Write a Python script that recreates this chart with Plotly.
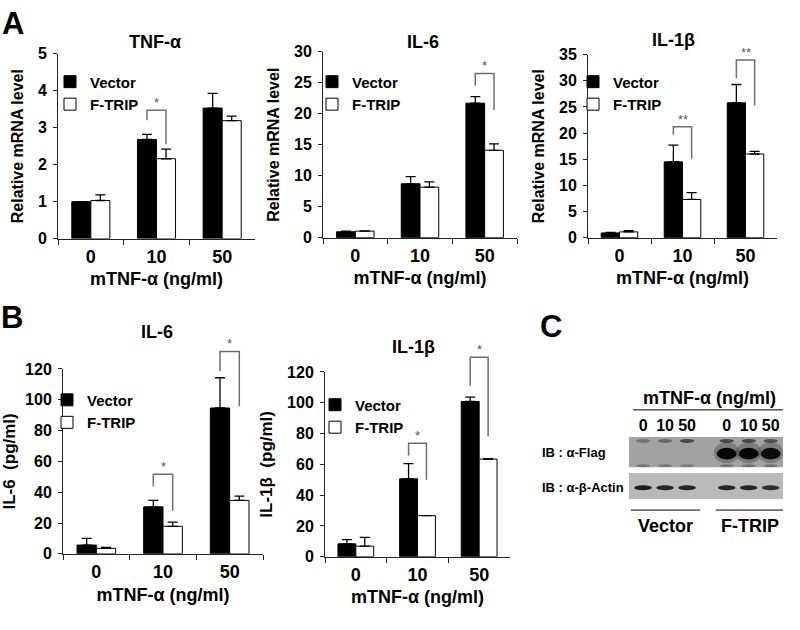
import plotly.graph_objects as go

W, H = 800, 630

doses = ["0", "10", "50"]

# panel A: relative mRNA level
tnf_vector = [1.0, 2.68, 3.53]
tnf_vector_err = [0.0, 0.14, 0.40]
tnf_ftrip = [1.03, 2.16, 3.19]
tnf_ftrip_err = [0.15, 0.26, 0.12]

il6_mrna_vector = [0.95, 8.7, 21.7]
il6_mrna_vector_err = [0.1, 1.15, 1.05]
il6_mrna_ftrip = [1.05, 8.15, 14.1]
il6_mrna_ftrip_err = [0.05, 0.85, 1.05]

il1b_mrna_vector = [0.9, 14.5, 25.8]
il1b_mrna_vector_err = [0.1, 3.2, 3.5]
il1b_mrna_ftrip = [1.1, 7.3, 16.0]
il1b_mrna_ftrip_err = [0.25, 1.3, 0.5]

# panel B: secreted protein (pg/ml)
il6_prot_vector = [5.7, 30.5, 94.7]
il6_prot_vector_err = [4.4, 4.2, 19.6]
il6_prot_ftrip = [3.6, 17.9, 34.7]
il6_prot_ftrip_err = [0.6, 2.7, 2.8]

il1b_prot_vector = [8.4, 50.6, 100.8]
il1b_prot_vector_err = [2.7, 9.9, 2.8]
il1b_prot_ftrip = [6.9, 26.7, 63.4]
il1b_prot_ftrip_err = [5.7, 0.0, 0.3]

# significance brackets: (dose index, left leg end, right leg end, top, mark)
tnf_sig = [(1, 3.2, 2.55, 3.47, "*")]
il6_mrna_sig = [(2, 24.5, 20.6, 26.5, "*")]
il1b_mrna_sig = [(1, 19.7, 15.1, 21.2, "**"), (2, 30.5, 25.3, 34.0, "**")]
il6_prot_sig = [(1, 43.8, 28.0, 51.6, "*"), (2, 118.5, 95.8, 131.4, "*")]
il1b_prot_sig = [(1, 65.8, 50.0, 73.7, "*"), (2, 111.0, 78.0, 129.5, "*")]

# panel C: western blot (band darkness per lane)
lanes = ["0", "10", "50", "0", "10", "50"]
lane_pos = [0, 1, 2, 3.8, 4.8, 5.8]
flag_top = [0.30, 0.35, 0.55, 0.55, 0.55, 0.50]
flag_main = [0.0, 0.0, 0.0, 0.95, 0.95, 0.90]
flag_bottom = [0.30, 0.28, 0.25, 0.30, 0.30, 0.30]
actin = [0.85, 0.80, 0.80, 0.80, 0.80, 0.75]
groups = ["Vector", "F-TRIP"]

BOLD = dict(family="Arial, Liberation Sans, sans-serif", color="black", weight="bold")

panels = [
    dict(vec=tnf_vector, vec_err=tnf_vector_err, ft=tnf_ftrip, ft_err=tnf_ftrip_err,
         sig=tnf_sig, ymax=5, dtick=1, title="TNF-α", ytitle="Relative mRNA level", yts=16,
         xpx=(58, 255), ypx=(237, 47), tpos=(155, 35), leg=(50, 59)),
    dict(vec=il6_mrna_vector, vec_err=il6_mrna_vector_err, ft=il6_mrna_ftrip, ft_err=il6_mrna_ftrip_err,
         sig=il6_mrna_sig, ymax=30, dtick=5, title="IL-6", ytitle="Relative mRNA level", yts=16,
         xpx=(323, 517), ypx=(236, 45), tpos=(423, 35), leg=(312, 59)),
    dict(vec=il1b_mrna_vector, vec_err=il1b_mrna_vector_err, ft=il1b_mrna_ftrip, ft_err=il1b_mrna_ftrip_err,
         sig=il1b_mrna_sig, ymax=35, dtick=5, title="IL-1β", ytitle="Relative mRNA level", yts=16,
         xpx=(588, 777), ypx=(236, 48), tpos=(673, 33), leg=(573, 59)),
    dict(vec=il6_prot_vector, vec_err=il6_prot_vector_err, ft=il6_prot_ftrip, ft_err=il6_prot_ftrip_err,
         sig=il6_prot_sig, ymax=120, dtick=20, title="IL-6", ytitle="IL-6  (pg/ml)", yts=17,
         xpx=(63, 263), ypx=(561, 371), tpos=(157, 333), leg=(47, 386)),
    dict(vec=il1b_prot_vector, vec_err=il1b_prot_vector_err, ft=il1b_prot_ftrip, ft_err=il1b_prot_ftrip_err,
         sig=il1b_prot_sig, ymax=120, dtick=20, title="IL-1β", ytitle="IL-1β  (pg/ml)", yts=17,
         xpx=(325, 510), ypx=(564, 374), tpos=(413, 348), leg=(315, 391)),
]

fig = go.Figure()
layout = dict(width=W, height=H, autosize=False, margin=dict(l=0, r=0, t=0, b=0),
              plot_bgcolor="white", paper_bgcolor="white", barmode="group",
              bargap=0.42, bargroupgap=0, showlegend=True)
shapes = []
annotations = []

for n, p in enumerate(panels, start=1):
    ax = "" if n == 1 else str(n)
    no_minus = [0 for _ in doses]
    fig.add_trace(go.Bar(
        x=doses, y=p["vec"], name="Vector", xaxis="x" + ax, yaxis="y" + ax, legend="legend" + ax,
        marker=dict(color="black", line=dict(color="black", width=1)),
        error_y=dict(type="data", array=p["vec_err"], arrayminus=no_minus, symmetric=False,
                     color="black", thickness=1.3, width=5)))
    fig.add_trace(go.Bar(
        x=doses, y=p["ft"], name="F-TRIP", xaxis="x" + ax, yaxis="y" + ax, legend="legend" + ax,
        marker=dict(color="white", line=dict(color="black", width=1)),
        error_y=dict(type="data", array=p["ft_err"], arrayminus=no_minus, symmetric=False,
                     color="black", thickness=1.3, width=5)))

    layout["xaxis" + ax] = dict(
        domain=[p["xpx"][0] / W, p["xpx"][1] / W], anchor="y" + ax, type="category",
        range=[-0.5, 2.5], tickson="boundaries", ticks="outside", ticklen=5, tickcolor="#222",
        showline=True, linecolor="#222", linewidth=1, showgrid=False, zeroline=False,
        tickfont=dict(size=18, **BOLD), ticklabelstandoff=2,
        title=dict(text="mTNF-α (ng/ml)", font=dict(size=18, **BOLD), standoff=6))
    layout["yaxis" + ax] = dict(
        domain=[1 - p["ypx"][0] / H, 1 - p["ypx"][1] / H], anchor="x" + ax,
        range=[0, p["ymax"]], dtick=p["dtick"], ticks="outside", ticklen=4, tickcolor="#222",
        showline=True, linecolor="#222", linewidth=1, showgrid=False, zeroline=False,
        tickfont=dict(size=16, **BOLD), ticklabelstandoff=3,
        title=dict(text=p["ytitle"], font=dict(size=p["yts"], **BOLD), standoff=10))
    layout["legend" + ax] = dict(
        x=p["leg"][0] / W, y=1 - p["leg"][1] / H, xanchor="left", yanchor="top",
        bgcolor="rgba(0,0,0,0)", font=dict(size=15, **BOLD), itemwidth=30, tracegroupgap=0)

    annotations.append(dict(text=p["title"], x=p["tpos"][0] / W, y=1 - p["tpos"][1] / H,
                            xref="paper", yref="paper", xanchor="center", yanchor="middle",
                            showarrow=False, font=dict(size=18, **BOLD)))

    half = (1 - layout["bargap"]) / 4
    for idx, left, right, top, mark in p["sig"]:
        xl = (idx + 0.5 - half) / 3
        xr = (idx + 0.5 + half) / 3
        ym = p["ymax"]
        shapes.append(dict(
            type="path", xref="x" + ax + " domain", yref="y" + ax + " domain",
            path=f"M{xl},{left / ym} L{xl},{top / ym} L{xr},{top / ym} L{xr},{right / ym}",
            line=dict(color="#6e6e6e", width=1.5)))
        annotations.append(dict(text=mark, x=(idx + 0.5) / 3, y=top / ym, xref="x" + ax + " domain",
                                yref="y" + ax + " domain", xanchor="center", yanchor="bottom",
                                showarrow=False, yshift=-2,
                                font=dict(size=13, color="#555", family="Arial")))

# panel letters
for letter, (lx, ly) in zip("ABC", [(13, 16), (12, 318), (551, 327)]):
    annotations.append(dict(text=letter, x=lx / W, y=1 - ly / H, xref="paper", yref="paper",
                            xanchor="center", yanchor="middle", showarrow=False,
                            font=dict(size=31, **BOLD)))

# panel C: blot
layout["xaxis6"] = dict(domain=[629 / W, 783 / W], anchor="y6", range=[-0.64, 6.36], side="top",
                        tickvals=lane_pos, ticktext=lanes, ticks="", showline=False, showgrid=False,
                        zeroline=False, tickfont=dict(size=16, **BOLD), ticklabelstandoff=2)
layout["yaxis6"] = dict(domain=[1 - 505 / H, 1 - 441 / H], anchor="x6", range=[64, 0],
                        showticklabels=False, ticks="", showline=False, showgrid=False, zeroline=False)

shapes.append(dict(type="rect", xref="x6 domain", yref="y6", x0=0, x1=1, y0=0, y1=31,
                   fillcolor="#a2a2a2", line=dict(width=0), layer="below"))
shapes.append(dict(type="rect", xref="x6 domain", yref="y6", x0=0, x1=1, y0=37, y1=64,
                   fillcolor="#b9b9b9", line=dict(width=0), layer="below"))


def band(x, yc, w, h, dark):
    return dict(type="circle", xref="x6", yref="y6", x0=x - w / 2, x1=x + w / 2,
                y0=yc - h / 2, y1=yc + h / 2, fillcolor=f"rgba(0,0,0,{dark})", line=dict(width=0))


for x, t, m, b, a in zip(lane_pos, flag_top, flag_main, flag_bottom, actin):
    if m > 0:
        shapes.append(band(x, 16, 1.15, 22, m * 0.25))
        shapes.append(band(x, 17, 0.9, 12, m))
    shapes.append(band(x, 4, 0.65, 4, t))
    shapes.append(band(x, 29.5, 0.65, 3, b))
    shapes.append(band(x, 52, 0.8, 5, a))

fig.add_trace(go.Scatter(x=[6.82, 6.82], y=[17, 52], mode="markers", xaxis="x6", yaxis="y6",
                         marker=dict(symbol="triangle-left", size=13, color="black"),
                         cliponaxis=False, showlegend=False, hoverinfo="skip"))

annotations.append(dict(text="mTNF-α (ng/ml)", x=709 / W, y=1 - 401 / H, xref="paper", yref="paper",
                        xanchor="center", yanchor="middle", showarrow=False,
                        font=dict(size=18, **BOLD)))
shapes.append(dict(type="line", xref="x6", yref="paper", x0=-0.46, x1=6.45,
                   y0=1 - 413 / H, y1=1 - 413 / H, line=dict(color="black", width=1)))
for label, (g0, g1) in zip(groups, [(-0.55, 2.6), (3.3, 6.45)]):
    shapes.append(dict(type="line", xref="x6", yref="paper", x0=g0, x1=g1,
                       y0=1 - 516 / H, y1=1 - 516 / H, line=dict(color="black", width=1)))
    annotations.append(dict(text=label, x=(g0 + g1) / 2, y=1 - 532 / H, xref="x6", yref="paper",
                            xanchor="center", yanchor="middle", showarrow=False,
                            font=dict(size=18, **BOLD)))
for label, ly in [("IB : α-Flag", 457), ("IB : α-β-Actin", 493)]:
    annotations.append(dict(text=label, x=540 / W, y=1 - ly / H, xref="paper", yref="paper",
                            xanchor="left", yanchor="middle", showarrow=False,
                            font=dict(size=13, **BOLD)))

layout["shapes"] = shapes
layout["annotations"] = annotations
fig.update_layout(**layout)
fig.write_html("out.html", config={"displayModeBar": False},
               post_script="document.body.style.margin='0px';")
